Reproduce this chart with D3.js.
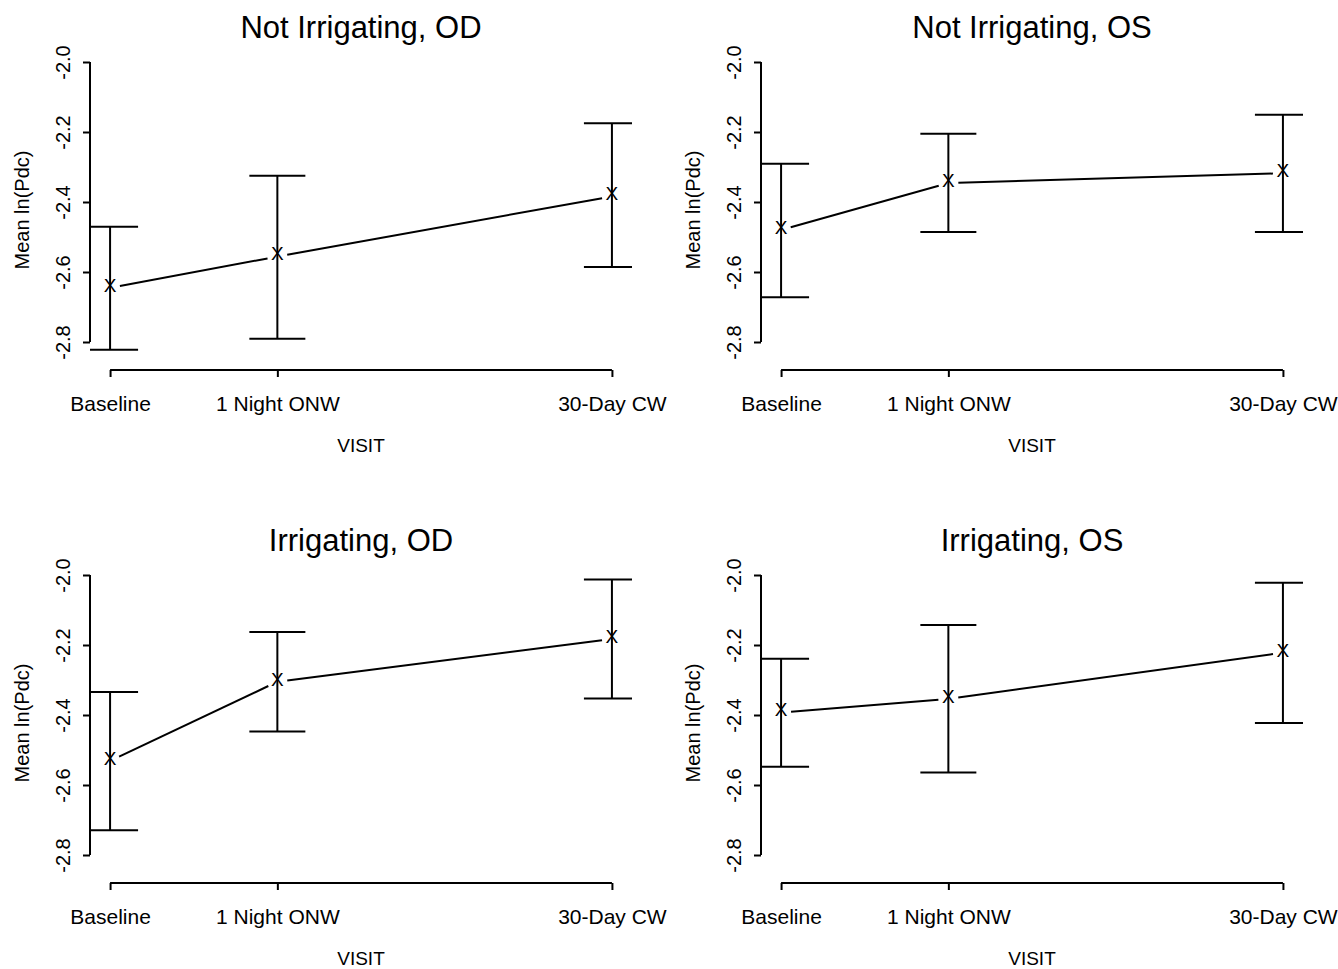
<!DOCTYPE html>
<html>
<head>
<meta charset="utf-8">
<script src="https://cdn.jsdelivr.net/npm/d3@7"></script>
<style>
  body { margin: 0; background: #fff; }
  svg { display: block; font-family: "Liberation Sans", Arial, sans-serif; }
</style>
</head>
<body>
<div id="chart"></div>
<script>
const visits = ["Baseline", "1 Night ONW", "30-Day CW"];
const visitX = [1, 2, 4];
const yTicks = [-2.0, -2.2, -2.4, -2.6, -2.8];

const panelTitles = ["Not Irrigating, OD", "Not Irrigating, OS", "Irrigating, OD", "Irrigating, OS"];

// means at each visit, one row per panel
const means = [
  [-2.645, -2.556, -2.384],
  [-2.480, -2.346, -2.318],
  [-2.531, -2.305, -2.183],
  [-2.393, -2.354, -2.222],
];
const lower = [
  [-2.822, -2.791, -2.586],
  [-2.672, -2.486, -2.486],
  [-2.729, -2.447, -2.353],
  [-2.548, -2.564, -2.423],
];
const upper = [
  [-2.471, -2.325, -2.175],
  [-2.291, -2.205, -2.151],
  [-2.334, -2.163, -2.013],
  [-2.239, -2.143, -2.022],
];

const W = 1338, H = 969;
const plotW = 542, plotH = 320;
const origins = [
  { left: 90, top: 50 },
  { left: 761, top: 50 },
  { left: 90, top: 563 },
  { left: 761, top: 563 },
];

const svg = d3.select("#chart").append("svg")
  .attr("width", W)
  .attr("height", H);

origins.forEach((o, p) => {
  const g = svg.append("g").attr("transform", `translate(${o.left},${o.top})`);

  const x = d3.scaleLinear()
    .domain([1 - 0.12, 4 + 0.12])
    .range([0, plotW]);

  const y = d3.scaleLinear()
    .domain([-2.8, -2.0])
    .range([292, 12]);

  const clipId = "clip" + p;
  g.append("clipPath").attr("id", clipId)
    .append("rect")
    .attr("x", 0).attr("y", 0)
    .attr("width", plotW).attr("height", plotH);

  // title
  g.append("text")
    .attr("x", plotW / 2)
    .attr("y", -12)
    .attr("text-anchor", "middle")
    .style("font-size", "31px")
    .text(panelTitles[p]);

  // y axis
  const yAxis = g.append("g")
    .call(d3.axisLeft(y).tickValues(yTicks).tickSize(7).tickFormat((d) => d.toFixed(1)));
  yAxis.select(".domain").remove();
  yAxis.append("line")
    .attr("x1", 0).attr("x2", 0)
    .attr("y1", y(-2.0)).attr("y2", y(-2.8))
    .attr("stroke", "#000").attr("stroke-width", 2);
  yAxis.selectAll(".tick line").attr("stroke-width", 2);
  yAxis.selectAll(".tick text")
    .attr("x", null).attr("dy", null)
    .attr("text-anchor", "middle")
    .attr("transform", "translate(-20,0) rotate(-90)")
    .attr("fill", "#000")
    .style("font-size", "20px")
    .style("font-family", "Liberation Sans, Arial, sans-serif");

  // x axis
  const xAxis = g.append("g")
    .attr("transform", `translate(0,${plotH})`)
    .call(d3.axisBottom(x).tickValues(visitX).tickSize(7).tickFormat((d, i) => visits[i]));
  xAxis.select(".domain").remove();
  xAxis.append("line")
    .attr("x1", x(1)).attr("x2", x(4))
    .attr("y1", 0).attr("y2", 0)
    .attr("stroke", "#000").attr("stroke-width", 2);
  xAxis.selectAll(".tick line").attr("stroke-width", 2);
  xAxis.selectAll(".tick text")
    .attr("y", 41).attr("dy", null)
    .attr("fill", "#000")
    .style("font-size", "21px")
    .style("font-family", "Liberation Sans, Arial, sans-serif");

  // axis titles
  g.append("text")
    .attr("x", plotW / 2)
    .attr("y", plotH + 82)
    .attr("text-anchor", "middle")
    .style("font-size", "19px")
    .text("VISIT");

  g.append("text")
    .attr("transform", `translate(-61,${plotH / 2}) rotate(-90)`)
    .attr("text-anchor", "middle")
    .style("font-size", "20px")
    .text("Mean ln(Pdc)");

  const pts = visitX.map((v, i) => ({
    x: v, mean: means[p][i], lo: lower[p][i], hi: upper[p][i],
  }));

  // error bars, clipped to plot region
  const bars = g.append("g").attr("clip-path", `url(#${clipId})`)
    .attr("stroke", "#000").attr("stroke-width", 2);
  const capHalf = 28;
  pts.forEach((d) => {
    bars.append("line")
      .attr("x1", x(d.x)).attr("x2", x(d.x))
      .attr("y1", y(d.lo)).attr("y2", y(d.hi));
    bars.append("line")
      .attr("x1", x(d.x) - capHalf).attr("x2", x(d.x) + capHalf)
      .attr("y1", y(d.hi)).attr("y2", y(d.hi));
    bars.append("line")
      .attr("x1", x(d.x) - capHalf).attr("x2", x(d.x) + capHalf)
      .attr("y1", y(d.lo)).attr("y2", y(d.lo));
  });

  // connecting line with small gaps around points (like type="b")
  const gap = 10;
  for (let i = 0; i < pts.length - 1; i++) {
    const x1 = x(pts[i].x), y1 = y(pts[i].mean);
    const x2 = x(pts[i + 1].x), y2 = y(pts[i + 1].mean);
    const len = Math.hypot(x2 - x1, y2 - y1);
    const ux = (x2 - x1) / len, uy = (y2 - y1) / len;
    g.append("line")
      .attr("x1", x1 + ux * gap).attr("y1", y1 + uy * gap)
      .attr("x2", x2 - ux * gap).attr("y2", y2 - uy * gap)
      .attr("stroke", "#000").attr("stroke-width", 2);
  }

  // point markers
  g.selectAll("text.pt")
    .data(pts)
    .enter()
    .append("text")
    .attr("class", "pt")
    .attr("x", (d) => x(d.x))
    .attr("y", (d) => y(d.mean))
    .attr("dy", "0.2em")
    .attr("text-anchor", "middle")
    .style("font-size", "19px")
    .text("X");
});
</script>
</body>
</html>
